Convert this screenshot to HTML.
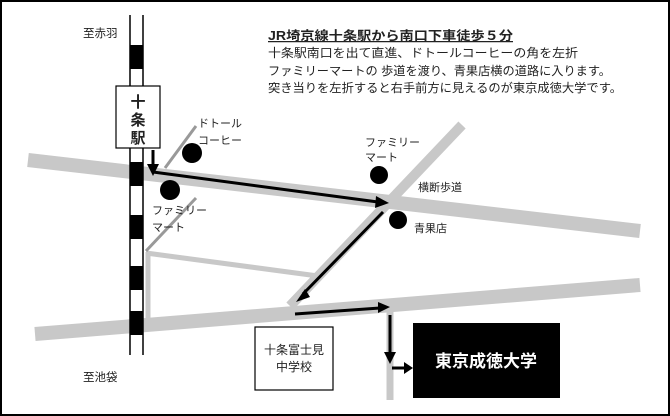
<!DOCTYPE html><html><head><meta charset="utf-8"><style>
body{margin:0;background:#fff}
svg{display:block}
text{font-family:"Liberation Sans","Noto Sans CJK JP",sans-serif;fill:#222}
</style></head><body>
<svg width="670" height="416" viewBox="0 0 670 416" xmlns="http://www.w3.org/2000/svg">
<rect x="1" y="1" width="668" height="414" fill="#fff" stroke="#000" stroke-width="2"/>
<g stroke="#c8c8c8" stroke-linecap="butt" fill="none">
<line x1="28" y1="160" x2="640" y2="231" stroke-width="14"/>
<line x1="462" y1="125" x2="290" y2="306" stroke-width="10"/>
<line x1="35" y1="334" x2="640" y2="285" stroke-width="14"/>
<line x1="146" y1="253" x2="318" y2="276" stroke-width="5"/>
<line x1="148" y1="252" x2="148" y2="322" stroke-width="5"/>
<line x1="390" y1="304" x2="390" y2="400" stroke-width="7"/>
</g>
<g stroke="#999" stroke-width="3">
<line x1="146" y1="251" x2="196" y2="198"/>
<line x1="165" y1="168" x2="196" y2="126"/>
</g>
<g stroke="#000" stroke-width="1.5">
<line x1="130" y1="15" x2="130" y2="355"/>
<line x1="143" y1="15" x2="143" y2="355"/>
</g>
<g fill="#000">
<rect x="130" y="45" width="13" height="24"/>
<rect x="130" y="162" width="13" height="24"/>
<rect x="130" y="215" width="13" height="24"/>
<rect x="130" y="266" width="13" height="24"/>
<rect x="130" y="311" width="13" height="24"/>
</g>
<rect x="116" y="86" width="44" height="62" fill="#fff" stroke="#000" stroke-width="1.2"/>
<text x="138" y="107" font-size="15" font-weight="bold" text-anchor="middle">十</text>
<text x="138" y="125" font-size="15" font-weight="bold" text-anchor="middle">条</text>
<text x="138" y="143" font-size="15" font-weight="bold" text-anchor="middle">駅</text>
<g fill="#000">
<circle cx="192" cy="153" r="10"/><circle cx="170" cy="190" r="10"/>
<circle cx="379" cy="175" r="9"/><circle cx="398" cy="220" r="9"/>
</g>
<g stroke="#000" stroke-width="3" fill="none">
<line x1="153" y1="150" x2="153" y2="166"/>
<line x1="153" y1="172" x2="378" y2="202"/>
<line x1="383" y1="212" x2="303" y2="294"/>
<line x1="295" y1="314" x2="380" y2="308"/>
<line x1="390" y1="315" x2="390" y2="355"/>
<line x1="392" y1="368" x2="405" y2="368"/>
</g>
<g fill="#000">
<polygon points="147,164 159,164 153,176"/>
<polygon points="376,196 389,203 375,208"/>
<polygon points="305,289 296,302 310,297"/>
<polygon points="378,302 390,307 378,313"/>
<polygon points="384,352 396,352 390,364"/>
<polygon points="404,362 413,368 404,374"/>
</g>
<rect x="255" y="327" width="78" height="63" fill="#fff" stroke="#000" stroke-width="1.2"/>
<text x="294" y="354" font-size="12" text-anchor="middle">十条富士見</text>
<text x="294" y="371" font-size="12" text-anchor="middle">中学校</text>
<rect x="413" y="323" width="147" height="75" fill="#000"/>
<text x="486" y="367" font-size="17" font-weight="bold" text-anchor="middle" style="fill:#fff">東京成徳大学</text>
<text x="268" y="40" font-size="12.5" font-weight="bold" text-decoration="underline" textLength="245" lengthAdjust="spacingAndGlyphs">JR埼京線十条駅から南口下車徒歩５分</text>
<text x="268" y="57" font-size="12" textLength="310" lengthAdjust="spacingAndGlyphs">十条駅南口を出て直進、ドトールコーヒーの角を左折</text>
<text x="268" y="75" font-size="12" textLength="343" lengthAdjust="spacingAndGlyphs">ファミリーマートの 歩道を渡り、青果店横の道路に入ります。</text>
<text x="268" y="92" font-size="12" textLength="354" lengthAdjust="spacingAndGlyphs">突き当りを左折すると右手前方に見えるのが東京成徳大学です。</text>
<text x="83" y="37" font-size="11.5">至赤羽</text>
<text x="83" y="381" font-size="11.5">至池袋</text>
<text x="198" y="127" font-size="11">ドトール</text>
<text x="198" y="144" font-size="11">コーヒー</text>
<text x="152" y="214" font-size="11">ファミリー</text>
<text x="152" y="231" font-size="11">マート</text>
<text x="365" y="146" font-size="11">ファミリー</text>
<text x="365" y="161" font-size="11">マート</text>
<text x="418" y="191" font-size="11">横断歩道</text>
<text x="414" y="232" font-size="11">青果店</text>
</svg>
</body></html>
